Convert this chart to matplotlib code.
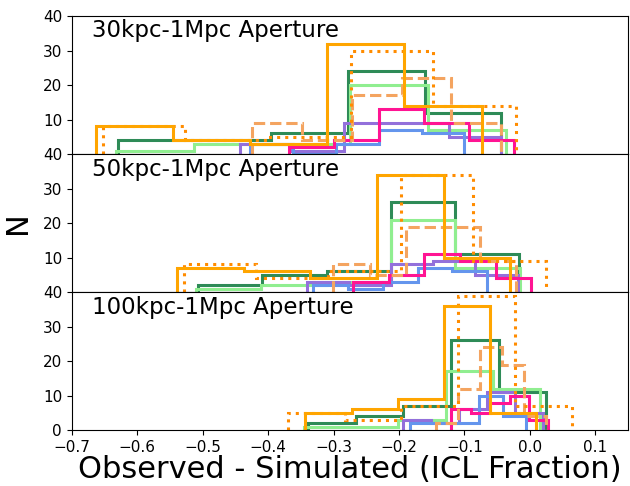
import numpy as np
import matplotlib
matplotlib.use('Agg')
import matplotlib.pyplot as plt

# Panel labels (top to bottom)
apertures = ['30kpc-1Mpc Aperture', '50kpc-1Mpc Aperture', '100kpc-1Mpc Aperture']

# Each series: lowest bin edge, highest bin edge and the 5 bin counts per panel
orange_lo = [-0.663, -0.539, -0.343]
orange_hi = [-0.074, -0.030, 0.010]
orange_counts = [[8, 4, 3, 32, 14], [7, 6, 4, 34, 10], [5, 6, 9, 36, 5]]

dotted_lo = [-0.653, -0.529, -0.370]
dotted_hi = [-0.021, 0.024, 0.064]
dotted_counts = [[8, 4, 5, 30, 14], [8, 4, 6, 34, 9], [5, 3, 7, 39, 7]]

dashed_lo = [-0.424, -0.301, -0.143]
dashed_hi = [-0.044, -0.021, 0.025]
dashed_counts = [[9, 4, 17, 22, 9], [8, 5, 19, 19, 9], [2, 12, 24, 19, 4]]

seagreen_lo = [-0.629, -0.507, -0.339]
seagreen_hi = [-0.044, -0.016, 0.025]
seagreen_counts = [[4, 4, 6, 24, 12], [2, 5, 6, 26, 11], [2, 4, 7, 26, 11]]

lightgreen_lo = [-0.633, -0.510, -0.345]
lightgreen_hi = [-0.037, -0.015, 0.015]
lightgreen_counts = [[1, 3, 3, 20, 7], [1, 2, 3, 21, 7], [1, 1, 3, 17, 12]]

purple_lo = [-0.443, -0.341, -0.194]
purple_hi = [-0.044, -0.019, 0.020]
purple_counts = [[3, 1, 9, 9, 5], [3, 2, 8, 9, 5], [3, 2, 6, 11, 5]]

blue_lo = [-0.428, -0.332, -0.184]
blue_hi = [-0.100, -0.065, -0.006]
blue_counts = [[3, 0, 3, 7, 6], [2, 1, 3, 7, 6], [2, 2, 2, 10, 4]]

pink_lo = [-0.368, -0.270, -0.120]
pink_hi = [-0.024, 0.002, 0.028]
pink_counts = [[2, 4, 13, 9, 4], [3, 5, 11, 9, 4], [6, 5, 8, 10, 3]]

# drawing order (last one on top)
series = [
    (seagreen_lo, seagreen_hi, seagreen_counts, 'seagreen', '-'),
    (lightgreen_lo, lightgreen_hi, lightgreen_counts, 'lightgreen', '-'),
    (purple_lo, purple_hi, purple_counts, 'mediumpurple', '-'),
    (blue_lo, blue_hi, blue_counts, 'cornflowerblue', '-'),
    (pink_lo, pink_hi, pink_counts, 'deeppink', '-'),
    (dashed_lo, dashed_hi, dashed_counts, 'sandybrown', '--'),
    (dotted_lo, dotted_hi, dotted_counts, 'darkorange', ':'),
    (orange_lo, orange_hi, orange_counts, 'orange', '-'),
]

fig, axes = plt.subplots(3, 1, figsize=(6.3, 4.86), dpi=100, sharex=True)
fig.subplots_adjust(left=0.114, right=0.997, top=0.967, bottom=0.115, hspace=0)

for i, ax in enumerate(axes):
    for lo, hi, counts, color, ls in series:
        edges = np.linspace(lo[i], hi[i], len(counts[i]) + 1)
        ax.stairs(counts[i], edges, color=color, ls=ls, lw=2.2)
    ax.set_ylim(0, 40)
    ax.text(0.037, 0.975, apertures[i], transform=ax.transAxes,
            ha='left', va='top', fontsize=16.5)
    if i < 2:
        ax.set_yticks([10, 20, 30, 40])
        ax.tick_params(axis='x', bottom=False)
    else:
        ax.set_yticks([0, 10, 20, 30, 40])
    ax.tick_params(labelsize=11)

axes[-1].set_xlim(-0.7, 0.15)
axes[-1].set_xticks(np.arange(-0.7, 0.15, 0.1))
axes[-1].set_xlabel('Observed - Simulated (ICL Fraction)', fontsize=22, labelpad=0)
axes[1].set_ylabel('N', fontsize=22, labelpad=8)

plt.savefig('out.png', dpi=100)
